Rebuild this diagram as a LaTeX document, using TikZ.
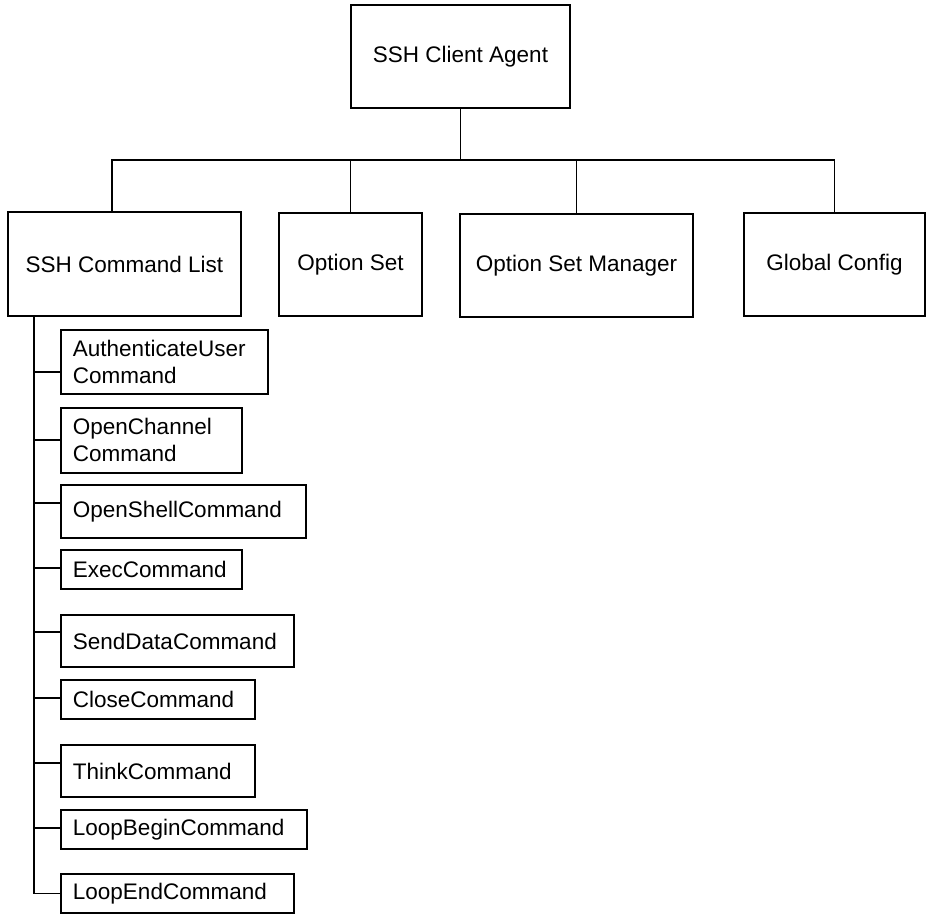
\documentclass[tikz,border=0pt]{standalone}
\usepackage{fontspec}
\setmainfont{Liberation Sans}
\begin{document}
\begin{tikzpicture}[x=1pt,y=-1pt,
  every node/.style={font=\fontsize{22.5}{27}\selectfont},
  ln/.style={line width=1.9pt},
  box/.style={draw, line width=1.9pt, inner sep=0pt},
  cmd/.style={draw, line width=1.9pt, anchor=north west, inner xsep=12pt, inner ysep=0pt, align=left}]
\useasboundingbox (0,0) rectangle (928,915);
% top level
\node[box, minimum width=219pt, minimum height=103pt] (top) at (460.5,56.5) {SSH Client Agent};
\node[box, minimum width=233pt, minimum height=104pt] (cl) at (124.5,264) {SSH Command List};
\node[box, minimum width=143pt, minimum height=103pt] (os) at (350.5,264.5) {Option Set};
\node[box, minimum width=233pt, minimum height=103pt] (osm) at (576.5,265.5) {Option Set Manager};
\node[box, minimum width=181pt, minimum height=103pt] (gc) at (834.5,264.5) {Global Config};
\coordinate (bus) at (0,160);
\coordinate (d1) at (112,160);
\draw[ln] (top.south) -- (top.south |- bus);
\draw[ln] (d1 |- cl.north) -- (d1) -- (gc.north |- bus) -- (gc.north);
\draw[ln] (os.north |- bus) -- (os.north);
\draw[ln] (osm.north |- bus) -- (osm.north);
% command list
\node[cmd, text width=183pt, minimum height=64pt] (au) at (60,329) {AuthenticateUser\\Command};
\node[cmd, text width=157pt, minimum height=65pt] (oc) at (60,407) {OpenChannel\\Command};
\node[cmd, text width=221pt, minimum height=53pt] (osc) at (60,484) {OpenShellCommand};
\node[cmd, text width=157pt, minimum height=39pt] (ex) at (60,549) {ExecCommand};
\node[cmd, text width=209pt, minimum height=52pt] (sd) at (60,614) {SendDataCommand};
\node[cmd, text width=170pt, minimum height=39pt] (cc) at (60,679) {CloseCommand};
\node[cmd, text width=170pt, minimum height=52pt] (th) at (60,744) {ThinkCommand};
\node[cmd, text width=222pt, minimum height=39pt] (lb) at (60,809) {LoopBeginCommand};
\node[cmd, text width=209pt, minimum height=39pt] (le) at (60,873) {LoopEndCommand};
\coordinate (sp) at (34,316);
\coordinate (yau) at (0,372);
\coordinate (yoc) at (0,440);
\coordinate (yosc) at (0,503);
\coordinate (yex) at (0,568);
\coordinate (ysd) at (0,632);
\coordinate (ycc) at (0,698);
\coordinate (yth) at (0,763);
\coordinate (ylb) at (0,828);
\draw[ln] (sp |- cl.south) -- (sp |- le.west) -- (le.west);
\draw[ln] (sp |- yau) -- (au.west |- yau);
\draw[ln] (sp |- yoc) -- (oc.west |- yoc);
\draw[ln] (sp |- yosc) -- (osc.west |- yosc);
\draw[ln] (sp |- yex) -- (ex.west |- yex);
\draw[ln] (sp |- ysd) -- (sd.west |- ysd);
\draw[ln] (sp |- ycc) -- (cc.west |- ycc);
\draw[ln] (sp |- yth) -- (th.west |- yth);
\draw[ln] (sp |- ylb) -- (lb.west |- ylb);
\end{tikzpicture}
\end{document}
